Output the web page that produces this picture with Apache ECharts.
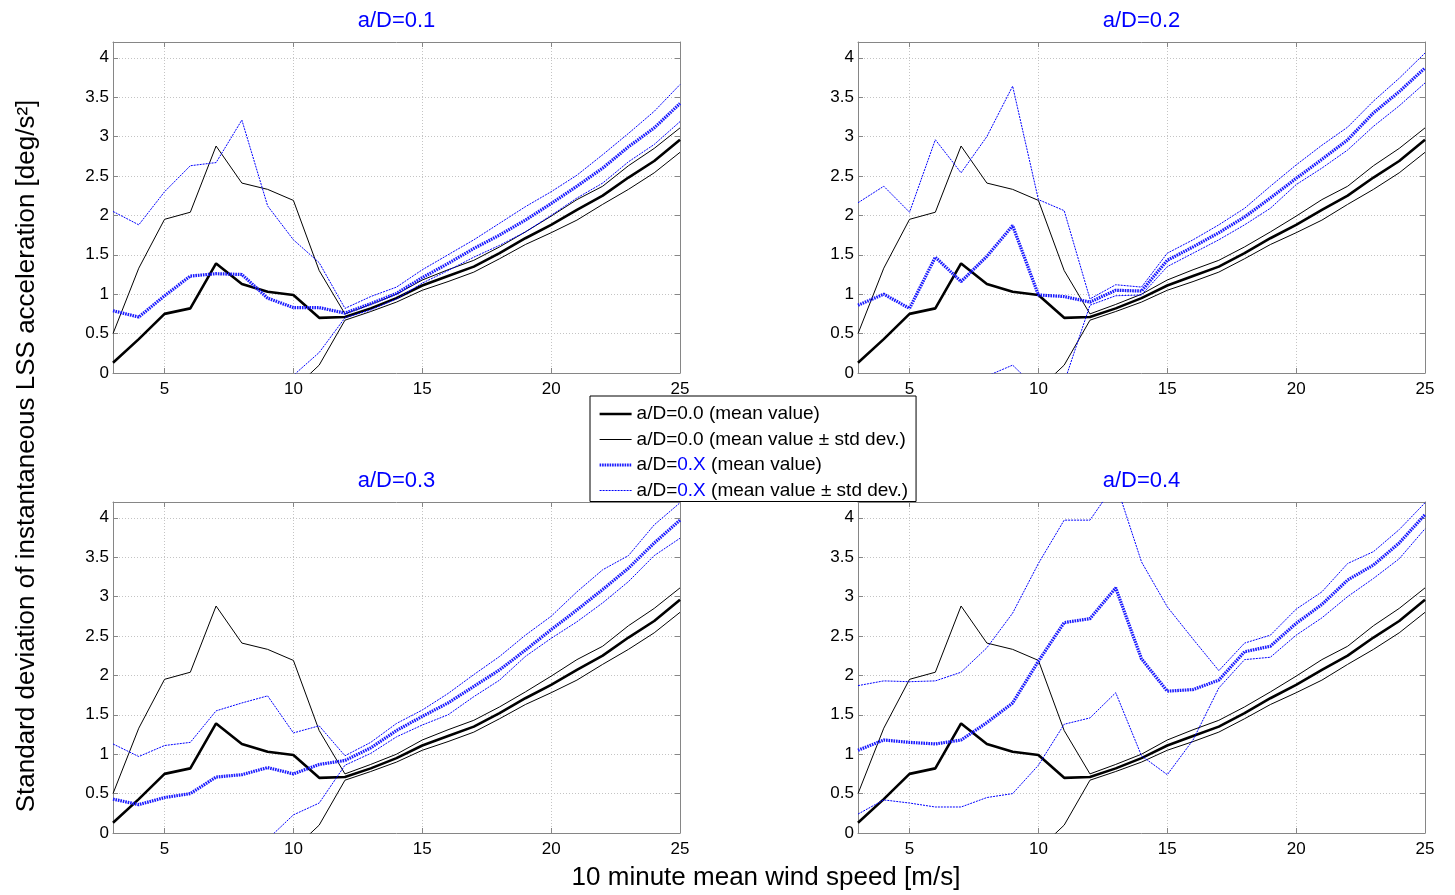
<!DOCTYPE html>
<html>
<head>
<meta charset="utf-8">
<script src="https://cdn.jsdelivr.net/npm/echarts@6/dist/echarts.min.js"></script>
<style>
html,body{margin:0;padding:0;background:#fff;}
#chart{width:1455px;height:895px;}
</style>
</head>
<body>
<div id="chart"></div>
<script>
// ---- data ----
const windSpeed = [3,4,5,6,7,8,9,10,11,12,13,14,15,16,17,18,19,20,21,22,23,24,25];
const xTicks = [5,10,15,20,25];
const panelTitles = ['a/D=0.1','a/D=0.2','a/D=0.3','a/D=0.4'];
const seriesNames = ['a/D=0.0 (mean value)','a/D=0.0 (mean value \u00b1 std dev.)','a/D=0.X (mean value)','a/D=0.X (mean value \u00b1 std dev.)'];

// a/D = 0.0 (same in all panels)
const base_mean  = [0.13,0.43,0.75,0.82,1.39,1.13,1.03,0.99,0.70,0.71,0.82,0.95,1.11,1.23,1.35,1.52,1.71,1.88,2.07,2.25,2.48,2.69,2.96];
const base_upper = [0.50,1.33,1.95,2.04,2.88,2.41,2.33,2.19,1.30,0.75,0.87,1.00,1.18,1.31,1.43,1.60,1.79,1.99,2.20,2.37,2.63,2.85,3.11];
const base_lower = [-0.24,-0.47,-0.45,-0.40,-0.10,-0.15,-0.27,-0.21,0.10,0.67,0.78,0.90,1.05,1.16,1.28,1.45,1.63,1.78,1.94,2.14,2.33,2.54,2.80];

// a/D = 0.1
const ad01_mean  = [0.79,0.71,0.98,1.23,1.26,1.25,0.95,0.83,0.83,0.76,0.88,1.01,1.21,1.39,1.58,1.75,1.94,2.15,2.37,2.60,2.87,3.11,3.42];
const ad01_upper = [2.05,1.88,2.30,2.63,2.67,3.21,2.12,1.69,1.40,0.82,0.97,1.09,1.31,1.50,1.69,1.90,2.11,2.30,2.51,2.77,3.04,3.32,3.66];
const ad01_lower = [-0.47,-0.46,-0.34,-0.17,-0.15,-0.71,-0.22,-0.03,0.26,0.70,0.80,0.94,1.14,1.30,1.47,1.62,1.79,2.00,2.22,2.41,2.68,2.90,3.19];

// a/D = 0.2
const ad02_mean  = [0.86,1.00,0.82,1.47,1.16,1.48,1.87,0.99,0.97,0.90,1.05,1.04,1.43,1.60,1.78,1.98,2.22,2.47,2.71,2.96,3.30,3.57,3.87];
const ad02_upper = [2.16,2.37,2.04,2.96,2.54,3.00,3.64,2.20,2.06,0.94,1.12,1.09,1.52,1.69,1.88,2.09,2.37,2.64,2.89,3.12,3.45,3.74,4.06];
const ad02_lower = [-0.44,-0.37,-0.40,-0.02,-0.22,-0.04,0.10,-0.22,-0.12,0.86,0.98,0.99,1.35,1.52,1.69,1.88,2.09,2.39,2.60,2.83,3.13,3.39,3.68];

// a/D = 0.3
const ad03_mean  = [0.43,0.36,0.45,0.50,0.71,0.74,0.83,0.75,0.87,0.92,1.08,1.30,1.48,1.65,1.86,2.07,2.32,2.58,2.83,3.09,3.36,3.68,3.97];
const ad03_upper = [1.13,0.97,1.11,1.15,1.55,1.65,1.74,1.27,1.36,0.98,1.15,1.39,1.56,1.77,2.01,2.24,2.51,2.75,3.06,3.34,3.52,3.91,4.19];
const ad03_lower = [-0.27,-0.25,-0.21,-0.15,-0.13,-0.17,-0.08,0.23,0.38,0.86,1.01,1.22,1.37,1.50,1.73,1.94,2.24,2.47,2.68,2.92,3.19,3.52,3.74];

// a/D = 0.4
const ad04_mean  = [1.05,1.18,1.15,1.13,1.18,1.40,1.65,2.18,2.67,2.72,3.11,2.21,1.80,1.82,1.94,2.30,2.37,2.66,2.90,3.21,3.40,3.68,4.04];
const ad04_upper = [1.87,1.93,1.92,1.93,2.04,2.35,2.79,3.42,3.97,3.97,4.44,3.44,2.87,2.46,2.06,2.41,2.51,2.84,3.06,3.42,3.57,3.85,4.19];
const ad04_lower = [0.24,0.42,0.38,0.33,0.33,0.45,0.50,0.86,1.38,1.46,1.78,0.98,0.74,1.18,1.84,2.20,2.23,2.51,2.73,3.00,3.23,3.48,3.86];

const panelMean  = [ad01_mean, ad02_mean, ad03_mean, ad04_mean];
const panelUpper = [ad01_upper, ad02_upper, ad03_upper, ad04_upper];
const panelLower = [ad01_lower, ad02_lower, ad03_lower, ad04_lower];

// ---- layout & styling ----
const FONT = '"Liberation Sans", Arial, Helvetica, sans-serif';
const gridBoxes = [
  {left:113, top:42,  width:567, height:331},
  {left:858, top:42,  width:567, height:331},
  {left:113, top:502, width:567, height:331},
  {left:858, top:502, width:567, height:331}
];
const FRAME = '#868686';

const styles = {
  baseMean:  {color:'#000000', width:2.6, type:'solid'},
  baseStd:   {color:'#000000', width:1,   type:'solid'},
  blueMean:  {color:'#1a1aff', width:3.2, type:[1.6,0.9]},
  blueStd:   {color:'#0000ff', width:1,   type:[2,1]}
};
const legendStyles = [styles.baseMean, styles.baseStd, styles.blueMean, styles.blueStd];

const xAxes = [], yAxes = [], series = [], titles = [];
gridBoxes.forEach((g, gi) => {
  xAxes.push({
    type:'value', gridIndex:gi, min:3, max:25, position:'bottom',
    axisLine:{show:true, onZero:false, lineStyle:{color:FRAME, width:1}},
    axisTick:{show:true, inside:true, length:5, customValues:xTicks, lineStyle:{color:FRAME}},
    axisLabel:{show:true, customValues:xTicks, color:'#000', fontSize:17, fontFamily:FONT, margin:8},
    splitLine:{show:true, lineStyle:{color:'#c4c4c4', type:[1,2], width:1}}
  });
  xAxes.push({
    type:'value', gridIndex:gi, min:3, max:25, position:'top',
    axisLine:{show:true, onZero:false, lineStyle:{color:FRAME, width:1}},
    axisTick:{show:true, inside:true, length:5, customValues:xTicks, lineStyle:{color:FRAME}},
    axisLabel:{show:false}, splitLine:{show:false}
  });
  yAxes.push({
    type:'value', gridIndex:gi, min:0, max:4.2, interval:0.5, position:'left',
    axisLine:{show:true, onZero:false, lineStyle:{color:FRAME, width:1}},
    axisTick:{show:true, inside:true, length:5, lineStyle:{color:FRAME}},
    axisLabel:{show:true, color:'#000', fontSize:17, fontFamily:FONT, margin:4, showMaxLabel:false,
      formatter:function(v){ return v > 4.05 ? '' : String(v); }},
    splitLine:{show:true, lineStyle:{color:'#c4c4c4', type:[1,2], width:1}}
  });
  yAxes.push({
    type:'value', gridIndex:gi, min:0, max:4.2, interval:0.5, position:'right',
    axisLine:{show:true, onZero:false, lineStyle:{color:FRAME, width:1}},
    axisTick:{show:true, inside:true, length:5, lineStyle:{color:FRAME}},
    axisLabel:{show:false}, splitLine:{show:false}
  });

  const cx = g.left + g.width/2;
  titles.push({
    text: panelTitles[gi], left: cx, top: g.top - 32, textAlign:'center', padding:0,
    textStyle:{color:'#0000ff', fontSize:22, fontWeight:'normal', fontFamily:FONT}
  });

  const mk = (name, data, ls, z) => ({
    type:'line', name:name, xAxisIndex:gi*2, yAxisIndex:gi*2,
    data: windSpeed.map((x,i)=>[x, data[i]]),
    symbol:'none', showSymbol:false, clip:true, silent:true, z:z,
    lineStyle: ls, itemStyle:{color:ls.color},
    emphasis:{disabled:true}, animation:false
  });
  series.push(mk(seriesNames[1], base_upper, styles.baseStd, 2));
  series.push(mk(seriesNames[1], base_lower, styles.baseStd, 2));
  series.push(mk(seriesNames[0], base_mean, styles.baseMean, 3));
  series.push(mk(seriesNames[3], panelUpper[gi], styles.blueStd, 4));
  series.push(mk(seriesNames[3], panelLower[gi], styles.blueStd, 4));
  series.push(mk(seriesNames[2], panelMean[gi], styles.blueMean, 5));
});

const option = {
  animation:false,
  backgroundColor:'#ffffff',
  textStyle:{fontFamily:FONT},
  title: titles,
  grid: gridBoxes.map(g => Object.assign({containLabel:false, outerBoundsMode:'none'}, g)),
  xAxis: xAxes,
  yAxis: yAxes,
  legend: {
    orient:'vertical', left:590, top:396,
    padding:[8,8,1,8], itemWidth:32, itemHeight:14, itemGap:5.5,
    backgroundColor:'#ffffff', borderColor:'#000000', borderWidth:1, borderRadius:0,
    selectedMode:false, z:20,
    itemStyle:{color:'rgba(0,0,0,0)', borderWidth:0, opacity:0},
    data: seriesNames.map((n, i) => ({
      name:n,
      itemStyle:{color:'rgba(0,0,0,0)', borderWidth:0, opacity:0},
      lineStyle:{color:legendStyles[i].color, width:legendStyles[i].width, type:legendStyles[i].type}
    })),
    formatter: function(name){ return name.replace('0.X', '{b|0.X}'); },
    textStyle:{color:'#000', fontSize:19, fontFamily:FONT, lineHeight:20,
      rich:{b:{color:'#0000ff', fontSize:19, fontFamily:FONT, lineHeight:20}}}
  },
  graphic: [
    {type:'text', x:27, y:456, rotation:Math.PI/2, silent:true,
      style:{text:'Standard deviation of instantaneous LSS acceleration [deg/s\u00b2]', fontSize:26, fontFamily:FONT,
        fill:'#000', align:'center', verticalAlign:'middle'}},
    {type:'text', x:766, y:878, silent:true,
      style:{text:'10 minute mean wind speed [m/s]', fontSize:26, fontFamily:FONT,
        fill:'#000', align:'center', verticalAlign:'middle'}}
  ],
  series: series
};

const chart = echarts.init(document.getElementById('chart'), null, {renderer:'canvas'});
chart.setOption(option);
</script>
</body>
</html>
